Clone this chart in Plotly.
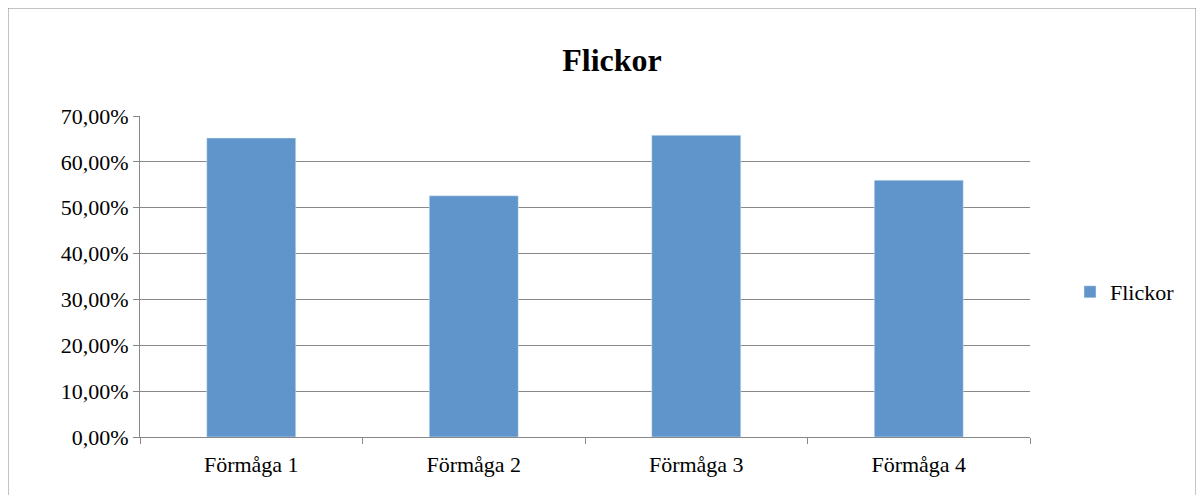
import plotly.graph_objects as go

categories = ["Förmåga 1", "Förmåga 2", "Förmåga 3", "Förmåga 4"]
flickor = [0.652, 0.526, 0.658, 0.560]
y_ticks = [0, 0.1, 0.2, 0.3, 0.4, 0.5, 0.6, 0.7]

font = "Liberation Serif"
W, H = 1204, 495
# page renders with an 8px offset, so margins are in figure coordinates
L, R, T, B = 132, 182, 108, 66
pw, ph = W - L - R, H - T - B

fig = go.Figure(go.Bar(x=categories, y=flickor, name="Flickor",
                       marker_color="#5f95cb", showlegend=True))

def px(x):
    return (x - L) / pw

def py(y):
    return (H - B - y) / ph

fig.update_layout(
    width=W, height=H, separators=",.",
    margin=dict(l=L, r=R, t=T, b=B),
    plot_bgcolor="white", paper_bgcolor="white",
    font=dict(family=font, size=22, color="black"),
    title=dict(text="<b>Flickor</b>", x=604 / W, xanchor="center", y=1 - 52 / H,
               yanchor="middle", font=dict(size=32)),
    bargap=0.6,
    legend=dict(x=px(1062), y=py(284), yanchor="middle", xanchor="left",
                font=dict(size=22), itemwidth=30),
    shapes=[
        dict(type="line", xref="paper", yref="paper", x0=px(0), x1=px(1188),
             y0=py(0), y1=py(0), line=dict(color="#888", width=1)),
        dict(type="line", xref="paper", yref="paper", x0=px(0), x1=px(0),
             y0=py(0), y1=py(495), line=dict(color="#888", width=1)),
        dict(type="line", xref="paper", yref="paper", x0=px(1188), x1=px(1188),
             y0=py(0), y1=py(495), line=dict(color="#888", width=1)),
    ],
)
fig.update_xaxes(showline=True, linecolor="#888", ticks="outside",
                 tickson="boundaries", ticklen=6, tickcolor="#888",
                 ticklabelstandoff=8)
fig.update_yaxes(range=[0, 0.7], tickvals=y_ticks, tickformat=".2%",
                 showgrid=True, gridcolor="#888", showline=True, linecolor="#888",
                 ticks="outside", ticklen=6, tickcolor="#888", zeroline=False)

fig.write_html("out.html")
